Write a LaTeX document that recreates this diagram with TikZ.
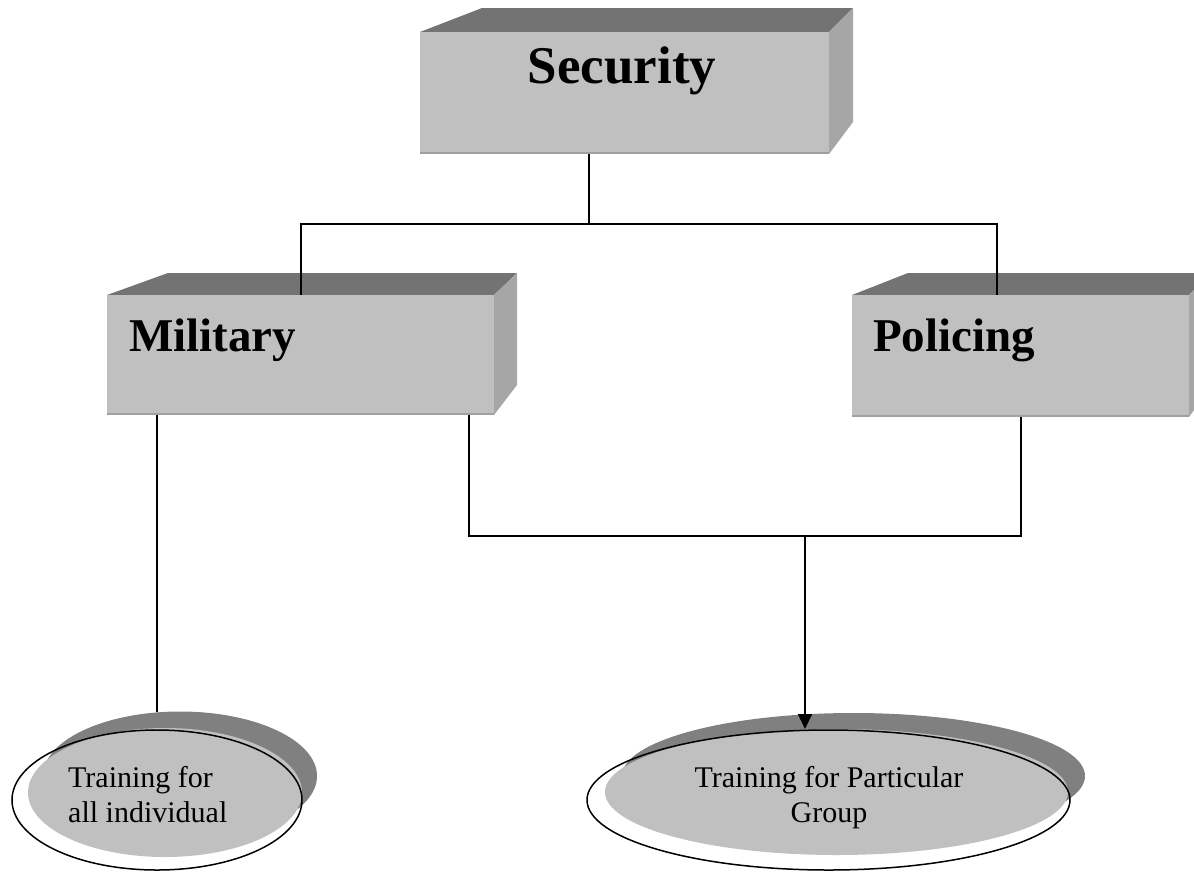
\documentclass[tikz,border=0pt]{standalone}
\usepackage{fontspec}
\setmainfont{Liberation Serif}
\usetikzlibrary{shapes.geometric,arrows.meta}
\definecolor{facefront}{HTML}{C0C0C0}
\definecolor{facetop}{HTML}{737373}
\definecolor{faceside}{HTML}{A6A6A6}
\definecolor{faceedge}{HTML}{A0A0A0}
\definecolor{shadowgray}{HTML}{808080}
\tikzset{
  front/.style={rectangle, fill=facefront, draw=none, inner sep=0pt, outer sep=0pt},
  topface/.style={fill=facetop},
  sideface/.style={fill=faceside},
  boxlabel/.style={font=\bfseries\fontsize{47}{54}\selectfont, inner sep=0pt},
  ovalfill/.style={ellipse, fill=facefront, draw=none, inner sep=0pt, outer sep=0pt},
  ovalshadow/.style={ellipse, fill=shadowgray, draw=none, inner sep=0pt, outer sep=0pt},
  ovalline/.style={ellipse, draw=black, line width=1.5pt, fill=none, inner sep=0pt, outer sep=0pt},
  ovaltext/.style={font=\fontsize{30}{35}\selectfont, inner sep=0pt},
  conn/.style={draw=black, line width=1.8pt},
  arrowconn/.style={conn, -{Triangle[length=15pt,width=14pt]}}
}
\begin{document}
\begin{tikzpicture}[x=1pt,y=-1pt]
\useasboundingbox (0,0) rectangle (1194,871);
\clip (0,0) rectangle (1194,871);
% ---------- Security box ----------
\fill[topface] (420,32) -- (482,8) -- (853,8) -- (829,32) -- cycle;
\fill[sideface] (829,32) -- (853,8) -- (853,122) -- (829,154) -- cycle;
\node[front, minimum width=409pt, minimum height=122pt] (sec) at (624.5,93) {};
\draw[faceedge, line width=2pt] (420,153) -- (829,153);
\node[boxlabel, font=\bfseries\fontsize{53}{60}\selectfont, anchor=base] (secl) at (622,83) {Security};
% ---------- Military box ----------
\fill[topface] (107,295) -- (168,273) -- (517,273) -- (494,295) -- cycle;
\fill[sideface] (494,295) -- (517,273) -- (517,385) -- (494,415) -- cycle;
\node[front, minimum width=387pt, minimum height=120pt] (mil) at (300.5,355) {};
\draw[faceedge, line width=2pt] (107,414) -- (494,414);
\node[boxlabel, anchor=base west] (mill) at (129,351) {Military};
% ---------- Policing box ----------
\fill[topface] (852,295) -- (908,273) -- (1212,273) -- (1189,295) -- cycle;
\fill[sideface] (1189,295) -- (1212,273) -- (1212,385) -- (1189,417) -- cycle;
\node[front, minimum width=337pt, minimum height=122pt] (pol) at (1020.5,356) {};
\draw[faceedge, line width=2pt] (852,416) -- (1189,416);
\node[boxlabel, anchor=base west] (poll) at (873,351) {Policing};
% ---------- Ellipses ----------
\node[ovalshadow, minimum width=274pt, minimum height=129pt] (tlsh) at (180,776) {};
\node[ovalfill, minimum width=274pt, minimum height=129pt] (tl) at (165,792.5) {};
\node[ovalline, minimum width=290pt, minimum height=140pt] (tlo) at (157,800) {};
\node[ovaltext, align=left, anchor=base west] (tlt) at (68,822) {Training for\\all individual};
\node[ovalshadow, minimum width=463pt, minimum height=126pt] (tpsh) at (853.5,776) {};
\node[ovalfill, minimum width=463pt, minimum height=126pt] (tp) at (836.5,792) {};
\node[ovalline, minimum width=483pt, minimum height=140pt] (tpo) at (828.5,800) {};
\node[ovaltext, align=center, anchor=base] (tpt) at (829,822) {Training for Particular\\Group};
% ---------- Connectors ----------
\coordinate (jtop) at (589,224);
\coordinate (jmil) at (301,224);
\coordinate (jpol) at (997,224);
\draw[conn] (sec.south -| jtop) -- (jtop);
\draw[conn] (mil.north -| jmil) |- (jpol) -- (pol.north -| jpol);
\coordinate (jl) at (469,536);
\coordinate (jr) at (1021,536);
\coordinate (ja) at (805,536);
\draw[conn] (mil.south -| jl) |- (jr) -- (pol.south -| jr);
\draw[arrowconn] (ja) -- (tp.north -| ja);
\coordinate (ll) at (157,0);
\draw[conn] (mil.south -| ll) -- (tlsh.north -| ll);
\end{tikzpicture}
\end{document}
